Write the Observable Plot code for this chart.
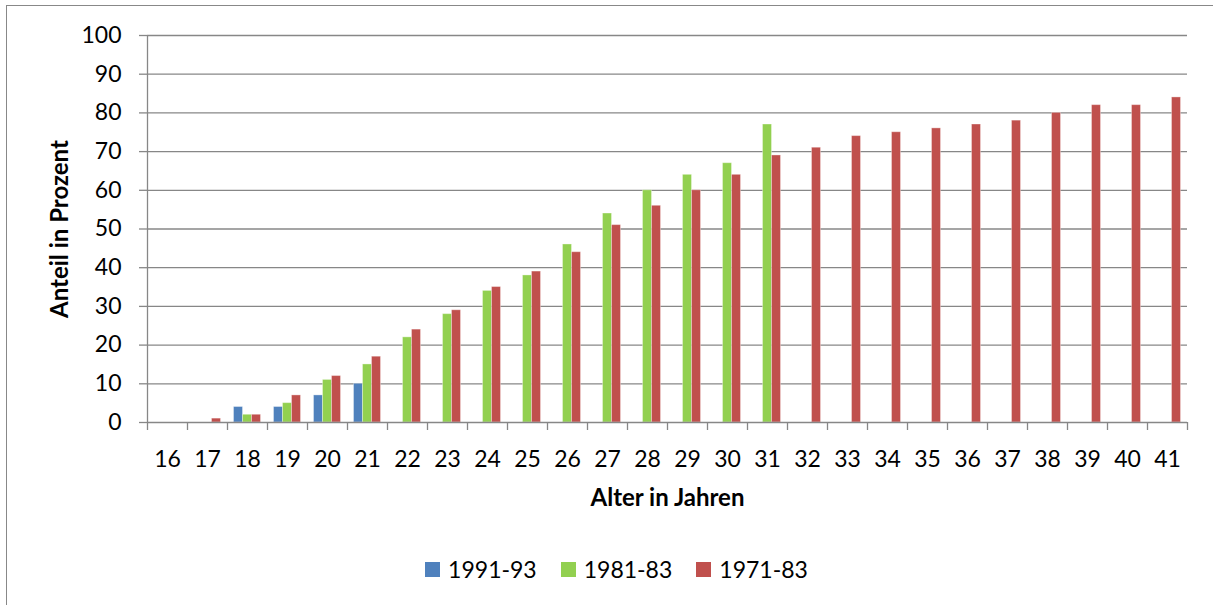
<!DOCTYPE html>
<html>
<head>
<meta charset="utf-8">
<script src="https://cdn.jsdelivr.net/npm/d3@7"></script>
<script src="https://cdn.jsdelivr.net/npm/@observablehq/plot@0.6"></script>
<style>
  html, body { margin: 0; padding: 0; background: #fff; }
  body { width: 1213px; height: 605px; position: relative; overflow: hidden; font-family: Lato, "Open Sans", sans-serif; }
  #frame { position: absolute; left: 6px; top: 5px; width: 1300px; height: 700px; border-left: 1.5px solid #888; border-top: 1.5px solid #888; }
  #chart { position: absolute; left: 0; top: 0; }
  #legend { position: absolute; top: 555px; left: 0; width: 1213px; display: flex; justify-content: center; padding-left: 20px; box-sizing: border-box; }
  .item { display: flex; align-items: center; margin: 0 12px; font-size: 23px; color: #000; }
  .swatch { width: 15px; height: 15px; margin-right: 8px; }
</style>
</head>
<body>
<div id="frame"></div>
<div id="chart"></div>
<div id="legend"></div>
<script>
// Ages on the x axis
const ages = [16, 17, 18, 19, 20, 21, 22, 23, 24, 25, 26, 27, 28, 29, 30, 31, 32, 33, 34, 35, 36, 37, 38, 39, 40, 41];

// Share in percent per cohort, by age
const cohort1991 = [
  [18, 4], [19, 4], [20, 7], [21, 10]
];
const cohort1981 = [
  [18, 2], [19, 5], [20, 11], [21, 15], [22, 22], [23, 28], [24, 34], [25, 38],
  [26, 46], [27, 54], [28, 60], [29, 64], [30, 67], [31, 77]
];
const cohort1971 = [
  [17, 1], [18, 2], [19, 7], [20, 12], [21, 17], [22, 24], [23, 29], [24, 35],
  [25, 39], [26, 44], [27, 51], [28, 56], [29, 60], [30, 64], [31, 69], [32, 71],
  [33, 74], [34, 75], [35, 76], [36, 77], [37, 78], [38, 80], [39, 82], [40, 82], [41, 84]
];

const seriesNames = ["1991-93", "1981-83", "1971-83"];
const seriesColors = ["#4F81BD", "#92D050", "#C0504D"];
const yTicks = [0, 10, 20, 30, 40, 50, 60, 70, 80, 90, 100];

const toRows = (arr) => arr.map(([age, value]) => ({age, value}));
const seriesData = [cohort1991, cohort1981, cohort1971].map(toRows);

const gridColor = "#878787";
const font = "Lato, 'Open Sans', sans-serif";

// One bar mark per cohort, shifted sideways within each age band
const barWidth = 9;
const bandWidth = 40;
const barMarks = seriesData.map((rows, i) =>
  Plot.barY(rows, {
    x: "age",
    y: "value",
    fill: seriesColors[i],
    stroke: "#fff",
    strokeOpacity: 0.35,
    strokeWidth: 1,
    insetLeft: (bandWidth - barWidth) / 2,
    insetRight: (bandWidth - barWidth) / 2,
    dx: (i - 1) * barWidth
  })
);

const chart = Plot.plot({
  width: 1213,
  height: 530,
  marginLeft: 147,
  marginRight: 26,
  marginTop: 35,
  marginBottom: 108,
  style: {fontFamily: font, fontSize: "23px", color: "#000", background: "transparent"},
  x: {type: "band", domain: ages, padding: 0, axis: null},
  y: {domain: [0, 100], axis: null},
  marks: [
    // horizontal gridlines
    Plot.ruleY(yTicks.slice(1), {stroke: gridColor, strokeWidth: 1.3}),
    ...barMarks,
    // axis lines
    Plot.ruleY([0], {stroke: gridColor, strokeWidth: 1.3}),
    Plot.ruleX([ages[0]], {dx: -bandWidth / 2, stroke: gridColor, strokeWidth: 1.3}),
    // y axis ticks and labels
    Plot.axisY({ticks: yTicks, tickSize: 8, tickPadding: 18, stroke: gridColor, strokeWidth: 1.3, fill: "#000", fontSize: 23, label: null}),
    // x tick marks on the band edges
    Plot.axisX({ticks: ages, tickSize: 8, dx: -bandWidth / 2, tickFormat: () => "", stroke: gridColor, strokeWidth: 1.3, label: null}),
    Plot.axisX({ticks: [ages[ages.length - 1]], tickSize: 8, dx: bandWidth / 2, tickFormat: () => "", stroke: gridColor, strokeWidth: 1.3, label: null}),
    // x tick labels
    Plot.axisX({ticks: ages, tickSize: 0, tickPadding: 28, fill: "#000", fontSize: 23, label: null}),
    // axis titles
    Plot.text(["Alter in Jahren"], {frameAnchor: "bottom", dy: 83, textAnchor: "middle", fontWeight: "bold", fontSize: 24, fill: "#000"}),
    Plot.text(["Anteil in Prozent"], {frameAnchor: "left", dx: -87, textAnchor: "middle", rotate: -90, fontWeight: "bold", fontSize: 24, fill: "#000"})
  ]
});
document.getElementById("chart").append(chart);

// Legend below the chart
const legend = document.getElementById("legend");
seriesNames.forEach((name, i) => {
  const item = document.createElement("div");
  item.className = "item";
  const sw = document.createElement("span");
  sw.className = "swatch";
  sw.style.background = seriesColors[i];
  item.append(sw, document.createTextNode(name));
  legend.append(item);
});
</script>
</body>
</html>
